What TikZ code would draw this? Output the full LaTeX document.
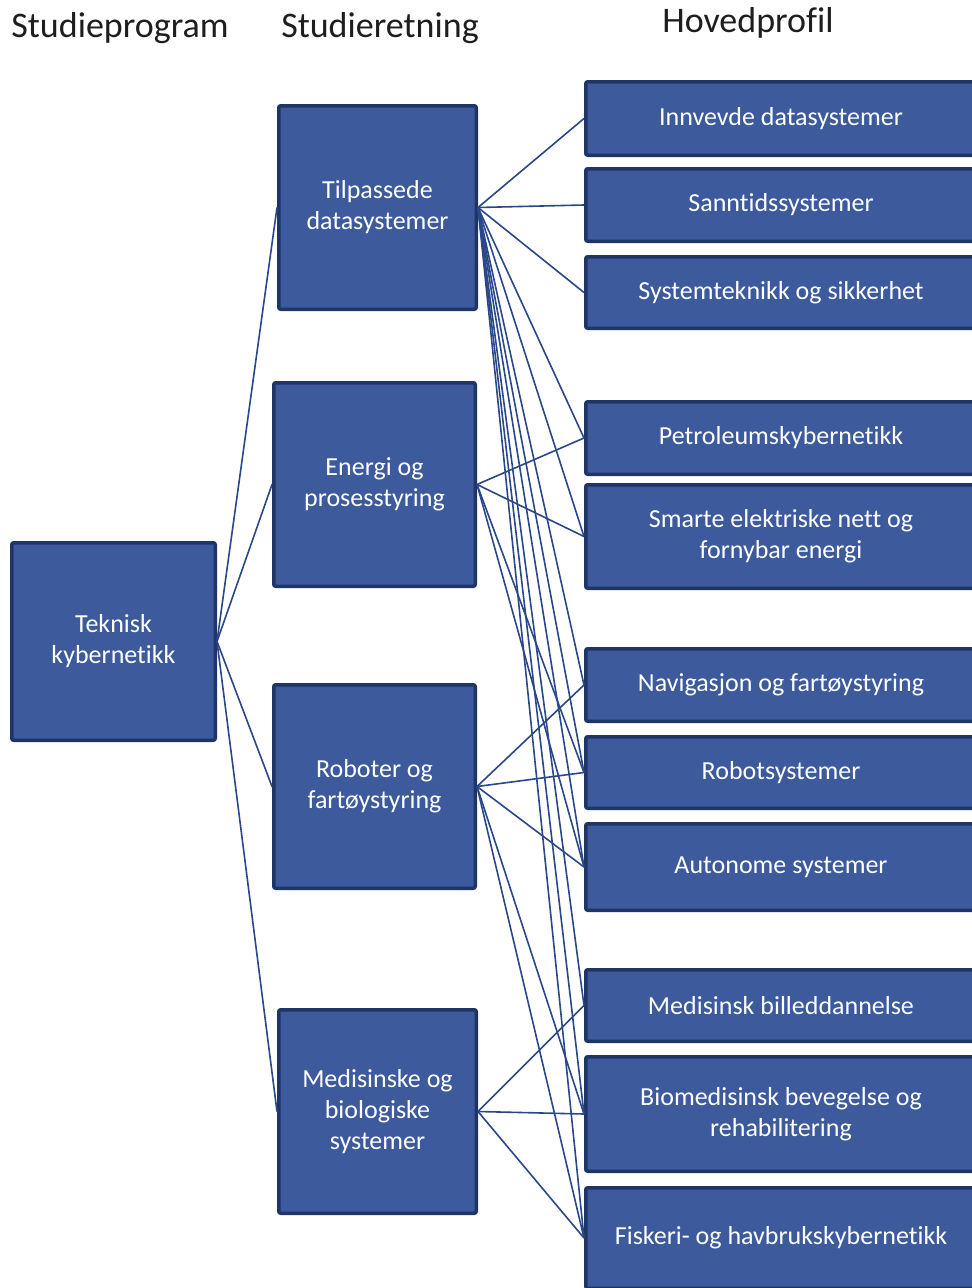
\documentclass[tikz,border=0pt]{standalone}
\usepackage{fontspec}
\setmainfont{Carlito}[Ligatures={NoCommon}]
\definecolor{boxfill}{HTML}{3C5A9C}
\definecolor{boxedge}{HTML}{1F3566}
\definecolor{linkcol}{HTML}{2A4889}
\definecolor{headcol}{HTML}{1E1E1E}
\tikzset{
  header/.style={anchor=base, text=headcol, font=\fontsize{36}{42}\selectfont, inner sep=0pt},
  unit/.style={draw=boxedge, fill=boxfill, line width=3.5pt, rounded corners=2pt,
    text=white, align=center, inner sep=0pt,
    font=\fontsize{26}{31}\selectfont},
  link/.style={draw=linkcol, line width=1.6pt}
}
\begin{document}
\begin{tikzpicture}[x=1pt,y=-1pt]
\useasboundingbox (0,0) rectangle (972,1288);
\clip (0,0) rectangle (972,1288);
\fill[white] (0,0) rectangle (972,1288);

% column headings
\node[header] (hsp) at (120,37) {Studieprogram};
\node[header] (hsr) at (380,37) {Studieretning};
\node[header] (hhp) at (748,32) {Hovedprofil};

% study programme
\node[unit, minimum width=203.5, minimum height=197.5] (tk) at (113.5,641.5) {Teknisk\\kybernetikk};

% study directions
\node[unit, minimum width=197.5, minimum height=203.5] (sr1) at (377.5,207.5) {Tilpassede\\datasystemer};
\node[unit, minimum width=201.5, minimum height=203.5] (sr2) at (374.5,484.5) {Energi og\\prosesstyring};
\node[unit, minimum width=201.5, minimum height=203.5] (sr3) at (374.5,786.5) {Roboter og\\fartøystyring};
\node[unit, minimum width=197.5, minimum height=203.5] (sr4) at (377.5,1111.5) {Medisinske og\\biologiske\\systemer};

% main profiles
\node[unit, minimum width=390.5, minimum height=73.5]  (hp1)  at (781,118.5) {Innvevde datasystemer};
\node[unit, minimum width=390.5, minimum height=72.5]  (hp2)  at (781,205)   {Sanntidssystemer};
\node[unit, minimum width=390.5, minimum height=71.5]  (hp3)  at (781,292.5) {Systemteknikk og sikkerhet};
\node[unit, minimum width=390.5, minimum height=72.5]  (hp4)  at (781,438)   {Petroleumskybernetikk};
\node[unit, minimum width=390.5, minimum height=103.5] (hp5)  at (781,536.5) {Smarte elektriske nett og\\fornybar energi};
\node[unit, minimum width=390.5, minimum height=72.5]  (hp6)  at (781,685)   {Navigasjon og fartøystyring};
\node[unit, minimum width=390.5, minimum height=71.5]  (hp7)  at (781,772.5) {Robotsystemer};
\node[unit, minimum width=390.5, minimum height=86.5]  (hp8)  at (781,867)   {Autonome systemer};
\node[unit, minimum width=390.5, minimum height=71.5]  (hp9)  at (781,1005.5){Medisinsk billeddannelse};
\node[unit, minimum width=390.5, minimum height=114.5] (hp10) at (781,1114)  {Biomedisinsk bevegelse og\\rehabilitering};
\node[unit, minimum width=390.5, minimum height=100.5] (hp11) at (781,1238)  {Fiskeri- og havbrukskybernetikk};

% programme to directions
\foreach \s in {sr1,sr2,sr3,sr4}
  \draw[link] (tk.east) -- (\s.west);

% directions to main profiles
\foreach \p in {hp1,hp2,hp3,hp4,hp5,hp6,hp7,hp8,hp9,hp10,hp11}
  \draw[link] (sr1.east) -- (\p.west);
\foreach \p in {hp4,hp5,hp7,hp8}
  \draw[link] (sr2.east) -- (\p.west);
\foreach \p in {hp6,hp7,hp8,hp10,hp11}
  \draw[link] (sr3.east) -- (\p.west);
\foreach \p in {hp9,hp10,hp11}
  \draw[link] (sr4.east) -- (\p.west);
\end{tikzpicture}
\end{document}
